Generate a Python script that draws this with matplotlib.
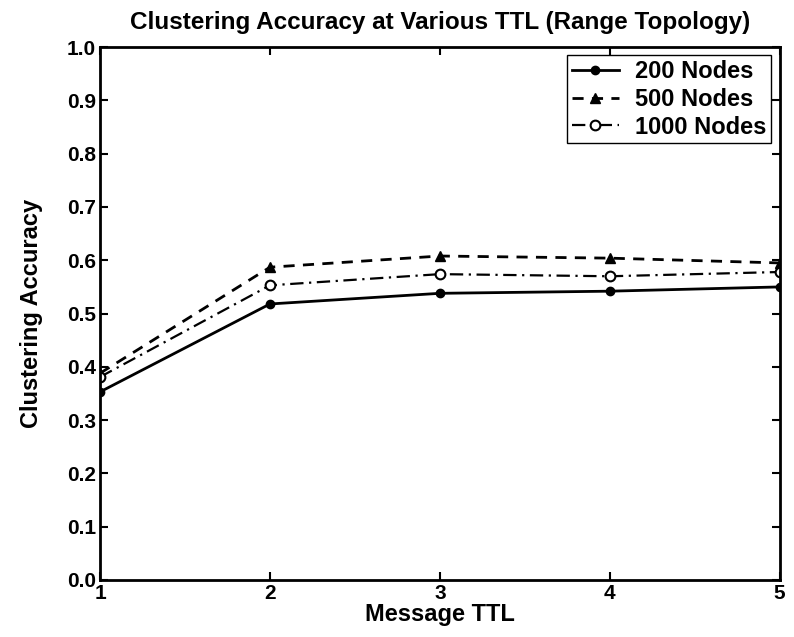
import numpy as np
import matplotlib
matplotlib.use('Agg')
import matplotlib.pyplot as plt

plt.rcParams['font.family'] = ['Liberation Sans', 'DejaVu Sans']
plt.rcParams['font.weight'] = 'bold'

ttl = [1, 2, 3, 4, 5]
acc_200 = [0.353, 0.518, 0.538, 0.542, 0.550]
acc_500 = [0.388, 0.587, 0.608, 0.604, 0.595]
acc_1000 = [0.381, 0.553, 0.574, 0.570, 0.578]

fig = plt.figure(figsize=(7.94, 6.37), dpi=100)
ax = fig.add_axes([0.126, 0.0895, 0.856, 0.8365])

ax.plot(ttl, acc_200, '-', color='black', lw=2, marker='o', ms=6,
        label='200 Nodes')
ax.plot(ttl, acc_500, color='black', lw=2, ls=(0, (4, 3)), marker='^', ms=7,
        label='500 Nodes')
ax.plot(ttl, acc_1000, color='black', lw=1.6, ls=(0, (6, 2.5, 1, 2.5)),
        marker='o', ms=7, mfc='white', mew=1.5, label='1000 Nodes')

ax.set_xlim(1, 5)
ax.set_ylim(0, 1)
ax.set_xticks(ttl)
ax.set_yticks(np.arange(0, 1.01, 0.1))
ax.set_yticklabels(['%.1f' % v for v in np.arange(0, 1.01, 0.1)])
ax.tick_params(direction='in', top=True, right=True, length=6, width=1.5,
               labelsize=15, pad=3)
for s in ax.spines.values():
    s.set_linewidth(2)

ax.set_xlabel('Message TTL', fontsize=17, fontweight='bold', labelpad=0)
ax.set_ylabel('Clustering Accuracy', fontsize=17, fontweight='bold', labelpad=17)
ax.set_title('Clustering Accuracy at Various TTL (Range Topology)',
             fontsize=17.5, fontweight='bold', pad=13)

leg = ax.legend(loc='upper right', fontsize=17, fancybox=False,
                edgecolor='black', framealpha=1, handlelength=2.0,
                handletextpad=0.7, borderaxespad=0.35, labelspacing=0.2,
                borderpad=0.2)
leg.get_frame().set_linewidth(1)

plt.savefig('out.png', dpi=100)
